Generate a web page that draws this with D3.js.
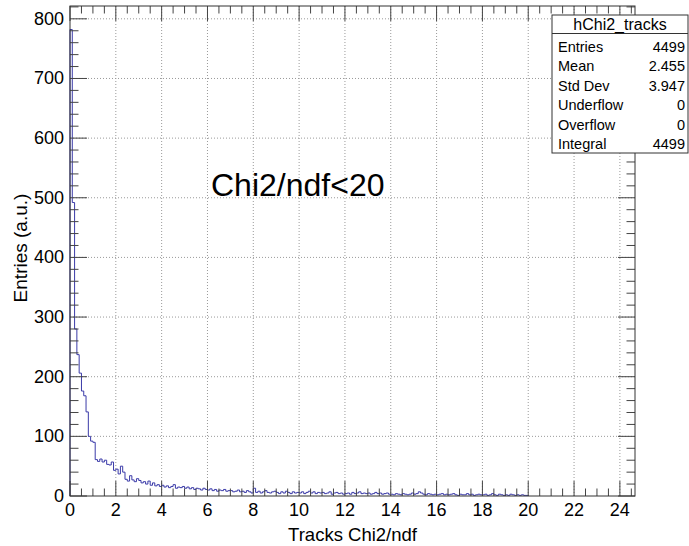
<!DOCTYPE html>
<html>
<head>
<meta charset="utf-8">
<script src="https://d3js.org/d3.v7.min.js"></script>
<style>
  body { margin: 0; background: #fff; }
  text { font-family: "Liberation Sans", Arial, Helvetica, sans-serif; fill: #000; }
</style>
</head>
<body>
<svg id="my_dataviz" width="689" height="546"></svg>
<script>

// bin contents, 0.1 wide, from 0 to 20 (one row = one unit of Chi2/ndf)
var binWidth = 0.1;
var counts = [
  782, 492, 280, 237, 206, 176, 168, 141, 100, 92,
  90, 61, 58, 62, 57, 60, 53, 52, 57, 43,
  45, 37, 50, 40, 28, 25, 34, 27, 24, 29,
  26, 22, 24, 20, 25, 18, 22, 17, 19, 16,
  18, 15, 17, 14, 16, 19, 13, 15, 14, 16,
  13, 15, 12, 14, 11, 13, 12, 10, 13, 11,
  10, 12, 9, 11, 8, 10, 9, 11, 8, 9,
  9, 7, 8, 10, 7, 8, 6, 9, 7, 5,
  13, 6, 8, 5, 7, 9, 6, 5, 7, 8,
  6, 4, 7, 5, 8, 6, 4, 7, 5, 6,
  5, 7, 4, 6, 8, 5, 7, 4, 6, 5,
  6, 4, 5, 7, 3, 5, 6, 4, 5, 3,
  4, 5, 3, 6, 4, 5, 7, 4, 5, 4,
  5, 3, 4, 6, 4, 5, 3, 4, 5, 3,
  3, 2, 4, 3, 2, 4, 3, 2, 3, 5,
  3, 4, 7, 5, 3, 2, 4, 3, 2, 3,
  2, 3, 4, 2, 3, 2, 3, 4, 2, 1,
  3, 2, 2, 4, 2, 3, 1, 2, 3, 2,
  2, 3, 1, 2, 4, 2, 1, 3, 2, 1,
  2, 1, 3, 2, 1, 2, 1, 2, 1, 1
];

// axis ticks
var xTicks = [0, 2, 4, 6, 8, 10, 12, 14, 16, 18, 20, 22, 24];
var yTicks = [0, 100, 200, 300, 400, 500, 600, 700, 800];

// stats box
var statsTitle = "hChi2_tracks";
var statsNames = ["Entries", "Mean", "Std Dev", "Underflow", "Overflow", "Integral"];
var statsValues = ["4499", "2.455", "3.947", "0", "0", "4499"];

var svg = d3.select("#my_dataviz");

// frame edges
var fLeft = 70, fRight = 635, fTop = 6, fBottom = 496;

var x = d3.scaleLinear().domain([0, 24.66]).range([fLeft, fRight]);
var y = d3.scaleLinear().domain([0, 821.5]).range([fBottom, fTop]);

// grid (dotted)
svg.append("g").selectAll("line")
  .data(xTicks.filter(function(d){ return d > 0; }))
  .enter().append("line")
    .attr("x1", function(d){ return x(d); }).attr("x2", function(d){ return x(d); })
    .attr("y1", fTop).attr("y2", fBottom)
    .attr("stroke", "#9a9a9a").attr("stroke-dasharray", "1,2");
svg.append("g").selectAll("line")
  .data(yTicks.filter(function(d){ return d > 0; }))
  .enter().append("line")
    .attr("x1", fLeft).attr("x2", fRight)
    .attr("y1", function(d){ return y(d); }).attr("y2", function(d){ return y(d); })
    .attr("stroke", "#9a9a9a").attr("stroke-dasharray", "1,2");

// histogram as steps
var pts = [[0, 0]];
counts.forEach(function(c, i) {
  pts.push([i * binWidth, c]);
  pts.push([(i + 1) * binWidth, c]);
});
pts.push([counts.length * binWidth, 0]);

svg.append("path")
  .datum(pts)
  .attr("fill", "none")
  .attr("stroke", "#3a3aa8")
  .attr("stroke-width", 1)
  .attr("d", d3.line()
    .x(function(d){ return x(d[0]); })
    .y(function(d){ return y(d[1]); }));

// ticks on all four sides
var ticks = svg.append("g").attr("stroke", "#444").attr("stroke-width", 1);
var xMinor = d3.range(0, 24.66, 0.5);
xMinor.forEach(function(v) {
  var len = (v % 2 === 0) ? 15 : 7.5;
  ticks.append("line").attr("x1", x(v)).attr("x2", x(v)).attr("y1", fBottom).attr("y2", fBottom - len);
  ticks.append("line").attr("x1", x(v)).attr("x2", x(v)).attr("y1", fTop).attr("y2", fTop + len);
});
var yMinor = d3.range(0, 821, 20);
yMinor.forEach(function(v) {
  var len = (v % 100 === 0) ? 17 : 8.5;
  ticks.append("line").attr("y1", y(v)).attr("y2", y(v)).attr("x1", fLeft).attr("x2", fLeft + len);
  ticks.append("line").attr("y1", y(v)).attr("y2", y(v)).attr("x1", fRight).attr("x2", fRight - len);
});

// frame
svg.append("rect")
  .attr("x", fLeft).attr("y", fTop)
  .attr("width", fRight - fLeft).attr("height", fBottom - fTop)
  .attr("fill", "none").attr("stroke", "#333");

// tick labels
svg.append("g").selectAll("text")
  .data(xTicks)
  .enter().append("text")
    .attr("x", function(d){ return x(d); })
    .attr("y", 516)
    .attr("text-anchor", "middle")
    .style("font-size", "18px")
    .text(function(d){ return d; });
svg.append("g").selectAll("text")
  .data(yTicks)
  .enter().append("text")
    .attr("x", 64)
    .attr("y", function(d){ return y(d) + 6; })
    .attr("text-anchor", "end")
    .style("font-size", "18px")
    .text(function(d){ return d; });

// axis titles
svg.append("text")
  .attr("x", (fLeft + fRight) / 2).attr("y", 541)
  .attr("text-anchor", "middle")
  .style("font-size", "18.5px")
  .text("Tracks Chi2/ndf");
svg.append("text")
  .attr("transform", "translate(27," + ((fTop + fBottom) / 2 - 3) + ") rotate(-90)")
  .attr("text-anchor", "middle")
  .style("font-size", "19px")
  .text("Entries (a.u.)");

// cut label
svg.append("text")
  .attr("x", 211).attr("y", 196)
  .style("font-size", "32px")
  .text("Chi2/ndf<20");

// stats box
var bx = 552, by = 15, bw = 136, bh = 138;
svg.append("rect")
  .attr("x", bx).attr("y", by).attr("width", bw).attr("height", bh)
  .attr("fill", "#fff").attr("stroke", "#333");
svg.append("line")
  .attr("x1", bx).attr("x2", bx + bw).attr("y1", 33.5).attr("y2", 33.5)
  .attr("stroke", "#333");
svg.append("text")
  .attr("x", bx + bw / 2).attr("y", 30)
  .attr("text-anchor", "middle")
  .style("font-size", "16px")
  .text(statsTitle);
statsNames.forEach(function(n, i) {
  var ty = 52 + i * 19.4;
  svg.append("text").attr("x", bx + 6).attr("y", ty)
    .style("font-size", "14.5px").text(n);
  svg.append("text").attr("x", bx + bw - 3).attr("y", ty)
    .attr("text-anchor", "end")
    .style("font-size", "14.5px").text(statsValues[i]);
});

</script>
</body>
</html>
